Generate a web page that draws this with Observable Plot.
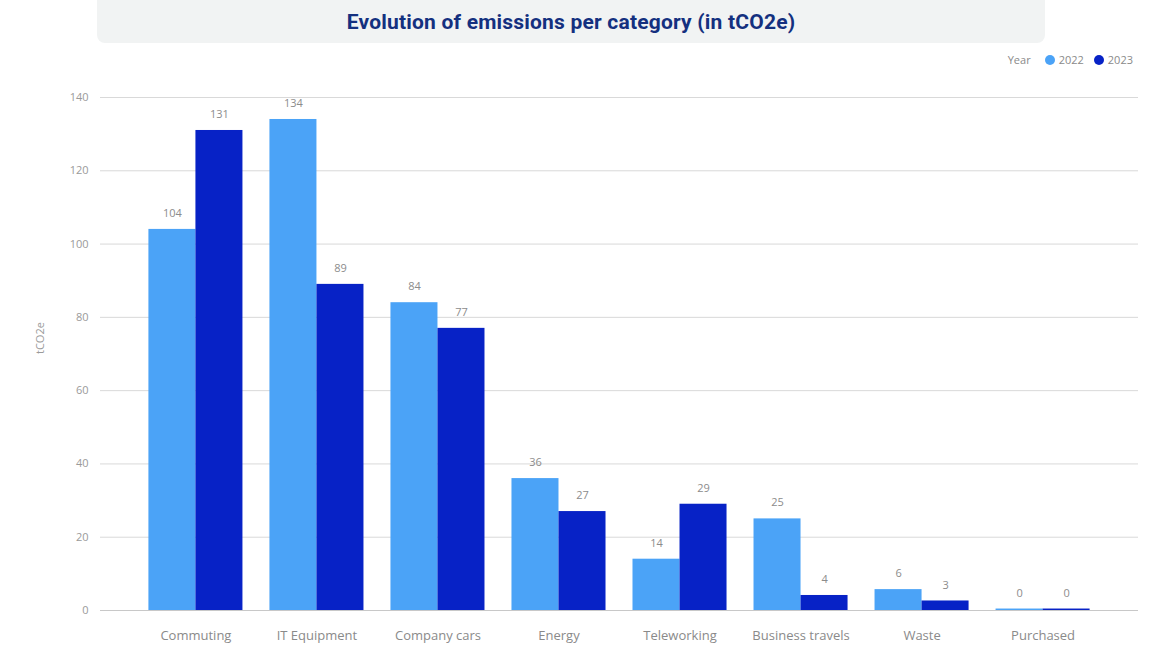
<!DOCTYPE html>
<html>
<head>
<meta charset="utf-8">
<script src="https://cdn.jsdelivr.net/npm/d3@7"></script>
<script src="https://cdn.jsdelivr.net/npm/@observablehq/plot@0.6"></script>
<style>
  html, body { margin: 0; padding: 0; background: #ffffff; }
  #wrap { position: relative; width: 1151px; height: 648px; overflow: hidden; font-family: "Open Sans", sans-serif; }
  #title { position: absolute; left: 97px; top: 0; width: 948px; height: 43px; background: #f1f3f3;
    border-radius: 0 0 8px 8px; display: flex; align-items: center; justify-content: center;
    font-family: Roboto, sans-serif; font-weight: 700; font-size: 21px; color: #14307f; letter-spacing: 0.2px; }
  #legend { position: absolute; right: 18px; top: 52px; display: flex; align-items: center; gap: 4px;
    font-size: 11px; color: #8a8a8a; }
  #legend .dot { width: 10px; height: 10px; border-radius: 50%; display: inline-block; margin-left: 6px; }
  #chart { position: absolute; left: 0; top: 0; }
</style>
</head>
<body>
<div id="wrap">
  <div id="chart"></div>
  <div id="title">Evolution of emissions per category (in tCO2e)</div>
  <div id="legend"></div>
</div>
<script>
const categories = ["Commuting", "IT Equipment", "Company cars", "Energy", "Teleworking", "Business travels", "Waste", "Purchased"];
const years = ["2022", "2023"];
const values2022 = [104, 134, 84, 36, 14, 25, 5.7, 0.4];
const values2023 = [131, 89, 77, 27, 29, 4.1, 2.6, 0.4];
const yTicks = [0, 20, 40, 60, 80, 100, 120, 140];
const yLabel = "tCO2e";
const legendTitle = "Year";

const colors = {"2022": "#4ba3f7", "2023": "#0722c6"};

const rows2022 = categories.map((c, i) => ({category: c, year: years[0], value: values2022[i]}));
const rows2023 = categories.map((c, i) => ({category: c, year: years[1], value: values2023[i]}));

const W = 1151, H = 648;
const mL = 100, mR = 13, mT = 97, mB = 38;
const padIn = 0.223, padOut = 0.4;
const step = (W - mL - mR) / (categories.length - padIn + 2 * padOut);
const bw = step * (1 - padIn);
const half = bw / 2;

const chart = Plot.plot({
  width: W,
  height: H,
  marginTop: mT,
  marginBottom: mB,
  marginLeft: mL,
  marginRight: mR,
  style: {fontFamily: "'Open Sans', sans-serif", background: "transparent", overflow: "visible"},
  x: {domain: categories, paddingInner: padIn, paddingOuter: padOut, round: false, label: null},
  y: {domain: [0, 140], label: null},
  marks: [
    Plot.gridY(yTicks, {stroke: "#d9d9d9", strokeOpacity: 1}),
    Plot.barY(rows2022, {x: "category", y: "value", fill: colors["2022"], insetRight: half}),
    Plot.barY(rows2023, {x: "category", y: "value", fill: colors["2023"], insetLeft: half}),
    Plot.ruleY([0], {stroke: "#c8c8c8"}),
    Plot.text(rows2022, {x: "category", y: "value", text: d => String(Math.round(d.value)), dx: -half / 2, dy: -16, fill: "#8c8c8c", fontSize: 11}),
    Plot.text(rows2023, {x: "category", y: "value", text: d => String(Math.round(d.value)), dx: half / 2, dy: -16, fill: "#8c8c8c", fontSize: 11}),
    Plot.axisY({ticks: yTicks, tickSize: 0, tickPadding: 12, fontSize: 11, fill: "#9a9a9a", label: null}),
    Plot.axisX({tickSize: 0, tickPadding: 20, fontSize: 13, fill: "#8a8a8a", label: null}),
    Plot.text([yLabel], {frameAnchor: "left", dx: -60, rotate: -90, fill: "#9a9a9a", fontSize: 11})
  ]
});
document.getElementById("chart").appendChild(chart);

const legend = document.getElementById("legend");
const lt = document.createElement("span");
lt.textContent = legendTitle;
lt.style.marginRight = "4px";
legend.appendChild(lt);
years.forEach(y => {
  const dot = document.createElement("span");
  dot.className = "dot";
  dot.style.background = colors[y];
  legend.appendChild(dot);
  const t = document.createElement("span");
  t.textContent = y;
  legend.appendChild(t);
});
</script>
</body>
</html>
